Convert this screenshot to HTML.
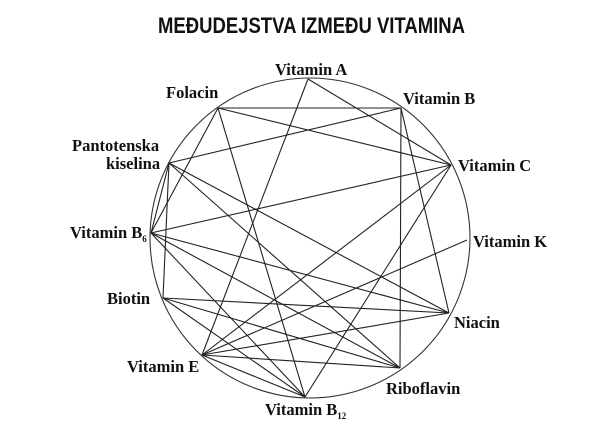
<!DOCTYPE html>
<html><head><meta charset="utf-8"><style>
html,body{margin:0;padding:0;background:#fff;width:604px;height:434px;overflow:hidden}
svg text{font-family:"Liberation Serif",serif;font-weight:bold;font-size:16.5px;fill:#111}
</style></head><body>
<svg width="604" height="434" viewBox="0 0 604 434" xmlns="http://www.w3.org/2000/svg">
<text x="158" y="33" textLength="307" lengthAdjust="spacingAndGlyphs" style="font-family:'Liberation Sans',sans-serif;font-size:22px;font-weight:bold">MEĐUDEJSTVA IZMEĐU VITAMINA</text>
<circle cx="310" cy="238" r="160" fill="none" stroke="#333" stroke-width="1.1"/>
<g stroke="#222" stroke-width="1.1" fill="none">
<line x1="308" y1="79" x2="202" y2="355"/>
<line x1="308" y1="79" x2="451" y2="165"/>
<line x1="218" y1="108" x2="401" y2="108"/>
<line x1="218" y1="108" x2="451" y2="165"/>
<line x1="218" y1="108" x2="151" y2="233"/>
<line x1="218" y1="108" x2="305" y2="397"/>
<line x1="401" y1="108" x2="169" y2="163"/>
<line x1="401" y1="108" x2="400" y2="368"/>
<line x1="401" y1="108" x2="449" y2="313"/>
<line x1="169" y1="163" x2="163" y2="298"/>
<line x1="169" y1="163" x2="400" y2="368"/>
<line x1="169" y1="163" x2="449" y2="313"/>
<line x1="169" y1="163" x2="151" y2="233"/>
<line x1="451" y1="165" x2="151" y2="233"/>
<line x1="451" y1="165" x2="202" y2="355"/>
<line x1="451" y1="165" x2="305" y2="397"/>
<line x1="467" y1="240" x2="202" y2="355"/>
<line x1="151" y1="233" x2="449" y2="313"/>
<line x1="151" y1="233" x2="400" y2="368"/>
<line x1="151" y1="233" x2="305" y2="397"/>
<line x1="163" y1="298" x2="449" y2="313"/>
<line x1="163" y1="298" x2="400" y2="368"/>
<line x1="163" y1="298" x2="305" y2="397"/>
<line x1="202" y1="355" x2="400" y2="368"/>
<line x1="202" y1="355" x2="305" y2="397"/>
<line x1="202" y1="355" x2="449" y2="313"/>
</g>
<text x="275" y="75">Vitamin A</text>
<text x="166" y="98">Folacin</text>
<text x="403" y="104">Vitamin B</text>
<text x="72" y="151">Pantotenska</text>
<text x="106" y="169">kiselina</text>
<text x="458" y="171">Vitamin C</text>
<text x="70" y="238">Vitamin B<tspan font-size="9" dy="4">6</tspan></text>
<text x="473" y="247">Vitamin K</text>
<text x="107" y="304">Biotin</text>
<text x="454" y="328">Niacin</text>
<text x="127" y="372">Vitamin E</text>
<text x="386" y="394">Riboflavin</text>
<text x="265" y="415">Vitamin B<tspan font-size="9" dy="4">12</tspan></text>
</svg>
</body></html>
